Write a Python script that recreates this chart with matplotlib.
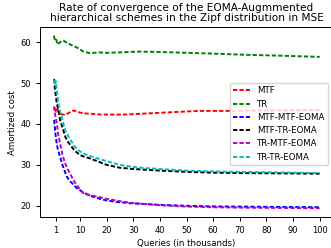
# Convergence of EOMA-augmented hierarchical schemes (Zipf, MSE)
import matplotlib
matplotlib.use("Agg")
import matplotlib.pyplot as plt

# values (queries in thousands -> amortized cost)
mtf_x = [0.6, 1, 1.5, 2, 3, 4.4, 6, 7.5, 9, 11, 14, 18, 22, 26, 30, 36, 45, 55, 66, 80, 100]
mtf_y = [44.0, 43.0, 43.6, 42.8, 42.4, 42.2, 42.8, 43.3, 43.0, 42.6, 42.5, 42.3, 42.3, 42.3,
         42.4, 42.6, 42.9, 43.2, 43.2, 43.3, 43.4]

tr_x = [0.2, 0.6, 1, 1.6, 2.5, 3.7, 5, 7, 8.8, 11, 13.7, 17, 20, 25, 32, 40, 50, 60, 73, 85, 100]
tr_y = [61.6, 60.5, 60.8, 59.4, 60.0, 60.4, 59.9, 59.2, 58.7, 57.8, 57.3, 57.5, 57.4, 57.5,
        57.7, 57.6, 57.4, 57.2, 56.9, 56.7, 56.4]

mme_x = [0.3, 0.5, 0.8, 1.3, 1.8, 2.5, 3.5, 5, 6, 7.5, 9, 11.2, 13, 15, 17.5, 20, 24.4, 29.4,
         35, 41, 50, 60, 70, 80, 90, 100]
mme_y = [41.0, 39.5, 37.5, 35.0, 33.5, 32.0, 29.8, 27.2, 26.2, 25.2, 24.2, 23.3, 22.7, 22.2,
         21.7, 21.3, 20.9, 20.6, 20.4, 20.2, 20.0, 19.85, 19.8, 19.75, 19.7, 19.65]

mte_x = [0.3, 0.6, 1.0, 1.3, 1.9, 2.5, 3.7, 4.4, 5.3, 6.3, 8, 10, 12, 13.7, 16.9, 20, 25, 30,
         35, 40, 50, 60, 70, 80, 90, 100]
mte_y = [51.0, 48.3, 46.5, 45.0, 43.4, 41.0, 38.6, 37.0, 35.8, 34.9, 33.5, 32.4, 31.9, 31.6,
         30.8, 30.0, 29.3, 29.0, 28.8, 28.6, 28.3, 28.1, 28.0, 27.95, 27.9, 27.85]

tme_x = [0.2, 0.5, 0.9, 1.3, 1.8, 2.5, 3.4, 4.4, 5.5, 7.5, 9, 11.2, 13.7, 17.5, 20, 24.4,
         29.4, 35, 41, 50, 60, 70, 80, 90, 100]
tme_y = [44.3, 42.8, 41.5, 40.2, 37.5, 35.3, 32.5, 30.4, 28.8, 26.3, 24.8, 23.1, 22.6,
         22.1, 21.7, 21.2, 20.7, 20.4, 20.1, 19.8, 19.65, 19.55, 19.5, 19.45, 19.4]

tte_x = [0.3, 0.6, 0.9, 1.3, 1.8, 2.5, 3.1, 4.4, 5.3, 6.3, 8, 10, 12, 15, 17, 20, 25, 30, 35,
         40, 50, 60, 70, 80, 90, 100]
tte_y = [50.8, 49.5, 50.5, 48.3, 45.5, 43.2, 41.8, 38.5, 37.4, 36.2, 34.5, 33.3, 32.6, 31.9,
         31.5, 30.9, 30.0, 29.5, 29.2, 29.0, 28.6, 28.4, 28.3, 28.2, 28.1, 28.0]

xticks = [1, 10, 20, 30, 40, 50, 60, 70, 80, 90, 100]

series = [
    (mtf_x, mtf_y, "r", "MTF"),
    (tr_x, tr_y, "g", "TR"),
    (mme_x, mme_y, "b", "MTF-MTF-EOMA"),
    (mte_x, mte_y, "k", "MTF-TR-EOMA"),
    (tme_x, tme_y, "m", "TR-MTF-EOMA"),
    (tte_x, tte_y, "c", "TR-TR-EOMA"),
]

fig = plt.figure(figsize=(3.31, 2.48), dpi=100)
ax = fig.add_axes([0.121, 0.124, 0.885, 0.767])

for x, y, c, label in series:
    ax.plot(x, y, color=c, linestyle="--", dashes=(2.2, 1.1), linewidth=1.4, label=label)

ax.set_xlim(-5, 105)
ax.set_ylim(17.2, 63.7)
ax.set_xticks(xticks)
ax.tick_params(labelsize=6, length=2.8, width=0.7)
for s in ax.spines.values():
    s.set_linewidth(0.7)

ax.set_xlabel("Queries (in thousands)", fontsize=6.2, labelpad=3)
ax.set_ylabel("Amortized cost", fontsize=6.2, labelpad=3)
ax.set_title("Rate of convergence of the EOMA-Augmmented\nhierarchical schemes in the Zipf distribution in MSE",
             fontsize=7.6, pad=4, linespacing=1.0)
ax.legend(loc="upper right", bbox_to_anchor=(0.983, 0.707), borderaxespad=0,
          fontsize=6.2, handlelength=2.0, labelspacing=0.5)

fig.savefig("out.png", dpi=100)
